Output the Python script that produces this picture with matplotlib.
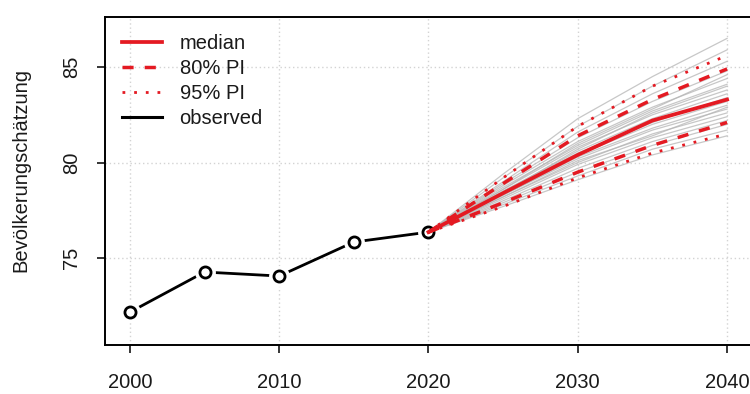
import matplotlib
matplotlib.use("Agg")
import matplotlib.pyplot as plt
from matplotlib.lines import Line2D

plt.rcParams['font.family'] = ['Liberation Sans', 'DejaVu Sans']

# observed data
obs_years = [2000, 2005, 2010, 2015, 2020]
obs_values = [72.17, 74.27, 74.06, 75.84, 76.36]

# projections
proj_years = [2020, 2025, 2030, 2035, 2040]
median = [76.36, 78.4, 80.4, 82.2, 83.3]
upper80 = [76.36, 78.9, 81.4, 83.3, 84.9]
lower80 = [76.36, 77.9, 79.5, 80.9, 82.1]
upper95 = [76.36, 79.2, 81.9, 84.0, 85.6]
lower95 = [76.36, 77.7, 79.2, 80.5, 81.5]

trajectories = [
    [76.36, 79.4, 82.3, 84.5, 86.5],
    [76.36, 79.2, 81.9, 84.0, 85.9],
    [76.36, 79.0, 81.6, 83.6, 85.3],
    [76.36, 78.9, 81.3, 83.2, 84.8],
    [76.36, 78.8, 81.1, 82.9, 84.4],
    [76.36, 78.7, 80.9, 82.7, 84.1],
    [76.36, 78.6, 80.8, 82.5, 83.8],
    [76.36, 78.5, 80.6, 82.3, 83.6],
    [76.36, 78.5, 80.5, 82.1, 83.4],
    [76.36, 78.4, 80.4, 82.0, 83.2],
    [76.36, 78.3, 80.3, 81.8, 83.0],
    [76.36, 78.3, 80.2, 81.7, 82.8],
    [76.36, 78.2, 80.0, 81.5, 82.6],
    [76.36, 78.1, 79.9, 81.3, 82.4],
    [76.36, 78.0, 79.7, 81.1, 82.2],
    [76.36, 77.9, 79.5, 80.9, 82.0],
    [76.36, 77.8, 79.3, 80.7, 81.7],
    [76.36, 77.7, 79.1, 80.4, 81.4],
    [76.36, 78.6, 81.0, 82.8, 84.6],
    [76.36, 78.4, 80.7, 82.6, 84.0],
    [76.36, 78.2, 80.1, 81.4, 82.9],
]

x_ticks = [2000, 2010, 2020, 2030, 2040]
y_ticks = [75, 80, 85]
ylabel = "Bevölkerungschätzung"
legend_labels = ["median", "80% PI", "95% PI", "observed"]

RED = '#e41a22'
FS = 14.5

fig = plt.figure(figsize=(7.5, 3.94), dpi=100)
ax = fig.add_axes([105/750, 49/394, 647/750, 328/394])

ax.set_xlim(1998.33, 2041.67)
ax.set_ylim(70.45, 87.62)

# grid
for xv in x_ticks:
    ax.axvline(xv, color='#d3d3d3', linestyle=(0, (1, 2)), lw=1, zorder=0)
for yv in y_ticks:
    ax.axhline(yv, color='#d3d3d3', linestyle=(0, (1, 2)), lw=1, zorder=0)

# observed
ax.plot(obs_years, obs_values, color='black', lw=2.0, zorder=2, solid_capstyle='butt')
ax.plot(obs_years, obs_values, linestyle='none', marker='o', markersize=15,
        markerfacecolor='white', markeredgecolor='none', zorder=2.1)
ax.plot(obs_years, obs_values, linestyle='none', marker='o', markersize=8,
        markerfacecolor='none', markeredgecolor='black', markeredgewidth=2.0, zorder=2.2)

# trajectories
for tr in trajectories:
    ax.plot(proj_years, tr, color='#b5b5b5', lw=0.9, alpha=0.75, zorder=3)

ax.plot(proj_years, upper95, color=RED, lw=2.0, linestyle=(0, (1, 3.2)), zorder=4)
ax.plot(proj_years, lower95, color=RED, lw=2.0, linestyle=(0, (1, 3.2)), zorder=4)
ax.plot(proj_years, upper80, color=RED, lw=2.5, linestyle=(0, (3.2, 3.2)), zorder=4)
ax.plot(proj_years, lower80, color=RED, lw=2.5, linestyle=(0, (3.2, 3.2)), zorder=4)
ax.plot(proj_years, median, color=RED, lw=2.7, zorder=5)

ax.set_xticks(x_ticks)
ax.set_xticklabels([str(v) for v in x_ticks], fontsize=FS, color='#1a1a1a')
ax.set_yticks(y_ticks)
ax.set_yticklabels([str(v) for v in y_ticks], fontsize=FS, color='#1a1a1a',
                   rotation=90, va='center')
ax.tick_params(axis='both', direction='out', length=6, width=1.1, color='black')
ax.tick_params(axis='x', pad=14)
ax.tick_params(axis='y', pad=11)

for s in ax.spines.values():
    s.set_linewidth(1.4)
    s.set_color('black')

ax.set_ylabel(ylabel, fontsize=FS, color='#1a1a1a')
ax.yaxis.set_label_coords(-0.115, 0.534)

handles = [
    Line2D([], [], color=RED, lw=2.7),
    Line2D([], [], color=RED, lw=2.5, linestyle=(0, (3.2, 3.2))),
    Line2D([], [], color=RED, lw=2.0, linestyle=(0, (1, 3.2))),
    Line2D([], [], color='black', lw=2.2),
]
leg = ax.legend(handles, legend_labels, loc='upper left', frameon=False,
                fontsize=FS, handlelength=2.0, handletextpad=0.85,
                labelspacing=0.29, borderaxespad=0.55, borderpad=0.3)
for t in leg.get_texts():
    t.set_color('#1a1a1a')

fig.savefig('out.png', dpi=100)
